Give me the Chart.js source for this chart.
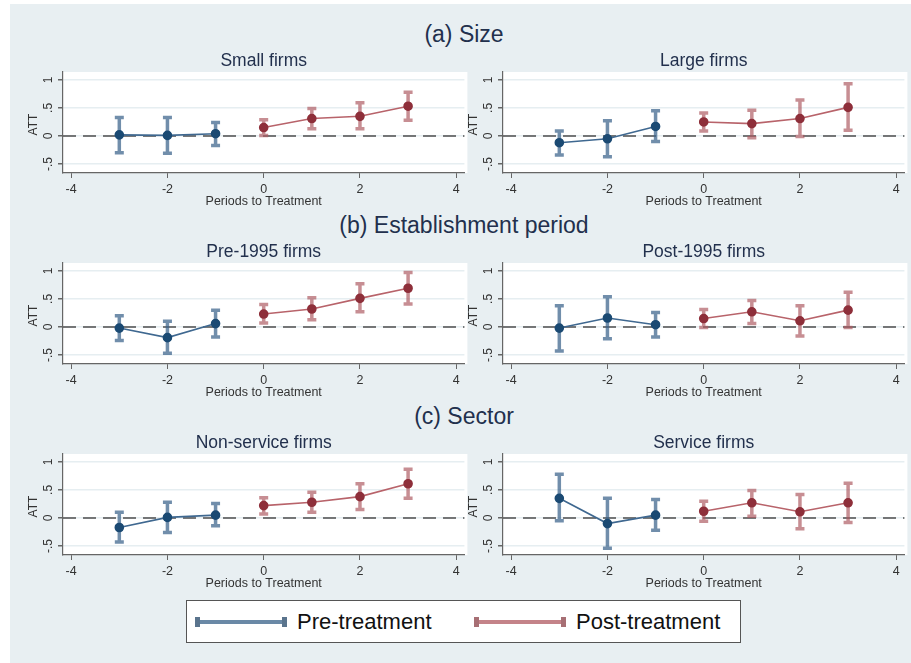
<!DOCTYPE html>
<html lang="en">
<head>
<meta charset="UTF-8" />
<title>ATT by firm group</title>
<script src="https://cdn.jsdelivr.net/npm/chart.js"></script>
<style>
  body { margin: 0; background: #fff; font-family: "Liberation Sans", Arial, sans-serif; }
  #page { position: relative; width: 911px; height: 663px; overflow: hidden; }
  #bg { position: absolute; left: 10px; top: 4px; right: 0; bottom: 0; background: #e8eff2; }
  .panel { position: absolute; }
  .section { position: absolute; left: 0; width: 928px; text-align: center; font-size: 23px; line-height: 26px; color: #22304d; }
  #legend { position: absolute; left: 186px; top: 600px; width: 553px; height: 41px; background: #fff; border: 1.5px solid #555; }
  .key { position: absolute; top: 19px; height: 4px; }
  .key::before, .key::after { content: ''; position: absolute; top: -3px; width: 5px; height: 10px; background: inherit; filter: brightness(0.85); }
  .key::before { left: 0; }
  .key::after { right: 0; }
  .key.pre { left: 8px; width: 92px; background: #6a89a6; }
  .key.post { left: 287px; width: 92px; background: #c48389; }
  .lab { position: absolute; top: 8px; font-size: 22px; line-height: 26px; color: #111; }
</style>
</head>
<body>
<div id="page">
  <div id="bg"></div>
  <div class="section" style="top:21px">(a) Size</div>
  <div class="section" style="top:212px">(b) Establishment period</div>
  <div class="section" style="top:403px">(c) Sector</div>

  <canvas class="panel" id="p0" width="450" height="165" style="left:20px;top:48px"></canvas>
  <canvas class="panel" id="p1" width="450" height="165" style="left:460px;top:48px"></canvas>
  <canvas class="panel" id="p2" width="450" height="165" style="left:20px;top:239px"></canvas>
  <canvas class="panel" id="p3" width="450" height="165" style="left:460px;top:239px"></canvas>
  <canvas class="panel" id="p4" width="450" height="165" style="left:20px;top:430px"></canvas>
  <canvas class="panel" id="p5" width="450" height="165" style="left:460px;top:430px"></canvas>

  <div id="legend">
    <div class="key pre"></div><div class="lab" style="left:110px">Pre-treatment</div>
    <div class="key post"></div><div class="lab" style="left:389px">Post-treatment</div>
  </div>
</div>

<script>
// periods relative to treatment (negative = pre-treatment)
const periods = [-3, -2, -1, 0, 1, 2, 3];
const xTicks = [-4, -2, 0, 2, 4];
const yTicks = [-0.5, 0, 0.5, 1];
const yTickLabels = ['-.5', '0', '.5', '1'];

const panelTitles = ['Small firms', 'Large firms', 'Pre-1995 firms', 'Post-1995 firms', 'Non-service firms', 'Service firms'];

// point estimates and 95% CI bounds
const smallAtt = [0.02, 0.01, 0.04, 0.15, 0.31, 0.35, 0.53];
const smallLo  = [-0.30, -0.31, -0.17, 0.01, 0.13, 0.13, 0.28];
const smallHi  = [0.33, 0.33, 0.24, 0.29, 0.49, 0.59, 0.78];

const largeAtt = [-0.12, -0.05, 0.17, 0.25, 0.22, 0.31, 0.51];
const largeLo  = [-0.34, -0.37, -0.10, 0.09, -0.03, -0.01, 0.10];
const largeHi  = [0.09, 0.27, 0.45, 0.41, 0.46, 0.64, 0.93];

const pre95Att = [-0.02, -0.19, 0.06, 0.23, 0.32, 0.51, 0.69];
const pre95Lo  = [-0.24, -0.47, -0.18, 0.07, 0.13, 0.27, 0.41];
const pre95Hi  = [0.20, 0.10, 0.30, 0.40, 0.52, 0.77, 0.97];

const post95Att = [-0.02, 0.16, 0.04, 0.15, 0.27, 0.11, 0.30];
const post95Lo  = [-0.43, -0.21, -0.18, -0.01, 0.06, -0.16, -0.01];
const post95Hi  = [0.38, 0.54, 0.26, 0.31, 0.47, 0.38, 0.62];

const nonServAtt = [-0.17, 0.01, 0.05, 0.22, 0.28, 0.38, 0.61];
const nonServLo  = [-0.43, -0.26, -0.14, 0.07, 0.10, 0.15, 0.35];
const nonServHi  = [0.10, 0.28, 0.26, 0.36, 0.46, 0.61, 0.87];

const servAtt = [0.35, -0.10, 0.05, 0.12, 0.27, 0.11, 0.27];
const servLo  = [-0.05, -0.54, -0.22, -0.06, 0.03, -0.19, -0.08];
const servHi  = [0.78, 0.35, 0.33, 0.30, 0.49, 0.42, 0.62];

const FONT = '"Liberation Sans", Arial, sans-serif';

// white plot region, zero line, CI caps and the text Stata puts round each panel
const panelDecor = {
  id: 'panelDecor',
  beforeDraw(chart) {
    const {ctx, chartArea: a} = chart;
    ctx.save();
    ctx.fillStyle = '#fff';
    ctx.fillRect(a.left, a.top, a.right - a.left + 3, a.bottom - a.top);
    ctx.restore();
  },
  beforeDatasetsDraw(chart) {
    const {ctx, chartArea: a, scales: {x, y}} = chart;
    ctx.save();
    // dashed reference line at 0
    const y0 = y.getPixelForValue(0);
    ctx.strokeStyle = '#4d4d4d';
    ctx.lineWidth = 1.6;
    ctx.setLineDash([13, 7]);
    ctx.beginPath();
    ctx.moveTo(a.left, y0);
    ctx.lineTo(a.right, y0);
    ctx.stroke();
    ctx.setLineDash([]);

    // confidence intervals
    chart.data.datasets.forEach(ds => {
      ctx.strokeStyle = ds.ciColor;
      ctx.lineWidth = 3.5;
      ds.data.forEach(d => {
        const px = x.getPixelForValue(d.x);
        const pl = y.getPixelForValue(d.lo);
        const ph = y.getPixelForValue(d.hi);
        ctx.beginPath();
        ctx.moveTo(px, pl);
        ctx.lineTo(px, ph);
        ctx.moveTo(px - 4.5, pl);
        ctx.lineTo(px + 4.5, pl);
        ctx.moveTo(px - 4.5, ph);
        ctx.lineTo(px + 4.5, ph);
        ctx.stroke();
      });
    });
    ctx.restore();
  },
  afterDraw(chart, args, opts) {
    const {ctx, chartArea: a, scales: {y}} = chart;
    ctx.save();
    ctx.fillStyle = '#333';
    ctx.textAlign = 'center';
    ctx.textBaseline = 'middle';
    ctx.font = '12px ' + FONT;
    yTicks.forEach((v, i) => {
      ctx.save();
      ctx.translate(a.left - 14, y.getPixelForValue(v));
      ctx.rotate(-Math.PI / 2);
      ctx.fillText(yTickLabels[i], 0, 0);
      ctx.restore();
    });
    ctx.save();
    ctx.translate(a.left - 29, (a.top + a.bottom) / 2 + 2);
    ctx.rotate(-Math.PI / 2);
    ctx.fillText('ATT', 0, 0);
    ctx.restore();

    ctx.font = '12.5px ' + FONT;
    ctx.fillText('Periods to Treatment', (a.left + a.right) / 2, a.bottom + 29);

    ctx.fillStyle = '#22304d';
    ctx.font = '17.5px ' + FONT;
    ctx.fillText(opts.title, (a.left + a.right) / 2, a.top - 11);
    ctx.restore();
  }
};

function split(att, lo, hi, pre) {
  const out = [];
  periods.forEach((p, i) => {
    if ((p < 0) === pre) out.push({x: p, y: att[i], lo: lo[i], hi: hi[i]});
  });
  return out;
}

function makePanel(id, title, att, lo, hi) {
  new Chart(document.getElementById(id), {
    type: 'scatter',
    data: {
      datasets: [
        {
          label: 'Pre-treatment',
          data: split(att, lo, hi, true),
          showLine: true,
          borderColor: '#3f6890',
          borderWidth: 1.6,
          pointRadius: 4,
          pointBackgroundColor: '#1b4a73',
          pointBorderColor: '#1b4a73',
          ciColor: 'rgba(58, 98, 138, 0.72)'
        },
        {
          label: 'Post-treatment',
          data: split(att, lo, hi, false),
          showLine: true,
          borderColor: '#b8636a',
          borderWidth: 1.6,
          pointRadius: 4,
          pointBackgroundColor: '#8e2f3a',
          pointBorderColor: '#8e2f3a',
          ciColor: 'rgba(172, 88, 96, 0.68)'
        }
      ]
    },
    options: {
      responsive: false,
      animation: false,
      events: [],
      layout: { padding: { top: 24, right: 5, left: 0, bottom: 0 } },
      plugins: {
        legend: { display: false },
        tooltip: { enabled: false },
        panelDecor: { title: title }
      },
      scales: {
        x: {
          type: 'linear',
          min: -4.17,
          max: 4.17,
          afterBuildTicks: s => { s.ticks = xTicks.map(v => ({value: v})); },
          afterFit: s => { s.height = 40; },
          grid: { drawOnChartArea: false, tickLength: 5, tickColor: '#666' },
          border: { color: '#666', width: 1.2 },
          ticks: { color: '#333', padding: 4, maxRotation: 0, font: { size: 12.5, family: FONT } }
        },
        y: {
          min: -0.66,
          max: 1.14,
          afterBuildTicks: s => { s.ticks = yTicks.map(v => ({value: v})); },
          afterFit: s => { s.width = 43; },
          grid: { color: '#e6eef1', lineWidth: 1.5, tickLength: 5, tickColor: '#666' },
          border: { color: '#666', width: 1.2 },
          ticks: { display: false }
        }
      }
    },
    plugins: [panelDecor]
  });
}

makePanel('p0', panelTitles[0], smallAtt, smallLo, smallHi);
makePanel('p1', panelTitles[1], largeAtt, largeLo, largeHi);
makePanel('p2', panelTitles[2], pre95Att, pre95Lo, pre95Hi);
makePanel('p3', panelTitles[3], post95Att, post95Lo, post95Hi);
makePanel('p4', panelTitles[4], nonServAtt, nonServLo, nonServHi);
makePanel('p5', panelTitles[5], servAtt, servLo, servHi);
</script>
</body>
</html>
